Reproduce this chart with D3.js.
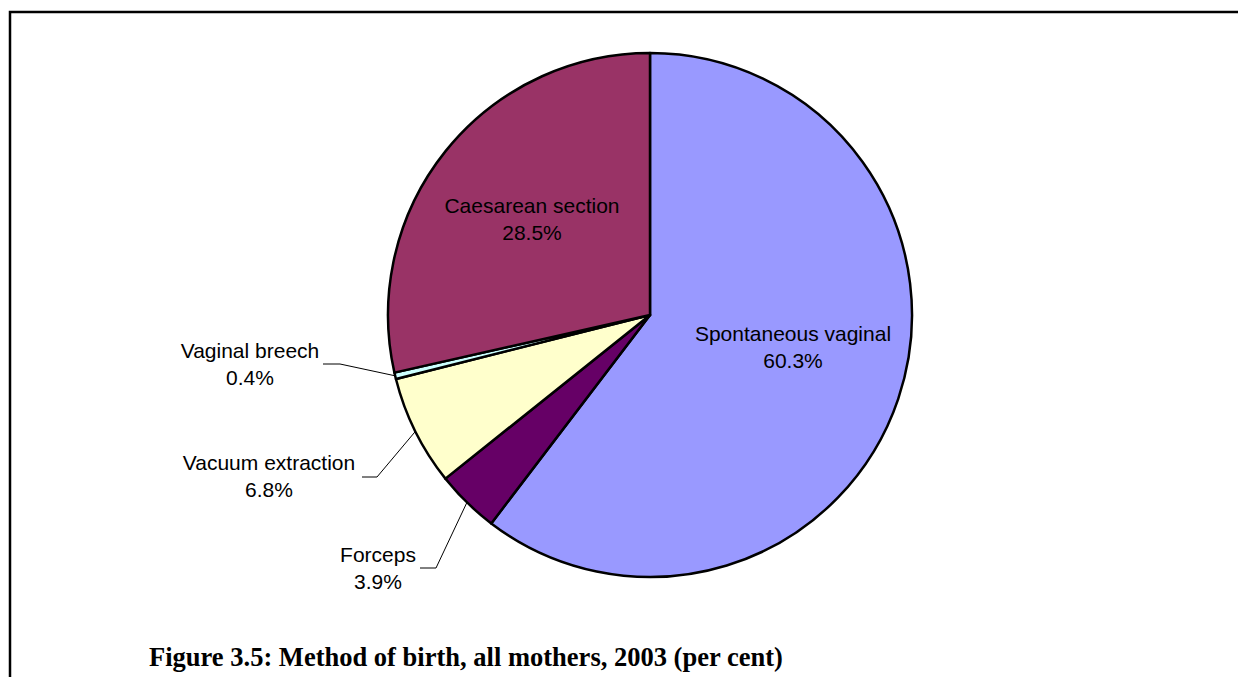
<!DOCTYPE html>
<html>
<head>
<meta charset="utf-8">
<title>Method of birth, all mothers, 2003</title>
<script src="https://cdn.jsdelivr.net/npm/d3@7"></script>
<style>
  body { margin: 0; background: #fff; }
  svg { display: block; }
</style>
</head>
<body>
<script>
// data (per cent), clockwise from 12 o'clock
var categories = ["Spontaneous vaginal", "Forceps", "Vacuum extraction", "Vaginal breech", "Caesarean section"];
var values = [60.3, 3.9, 6.8, 0.4, 28.5];
var colors = ["#9999ff", "#660066", "#ffffcc", "#ccffff", "#993366"];
var title = "Figure 3.5: Method of birth, all mothers, 2003 (per cent)";

// label placement: inside labels sit at a point, outside ones get a leader line
var labelLayout = {
  "Spontaneous vaginal": {inside: true, x: 793, y: 341},
  "Caesarean section":   {inside: true, x: 532, y: 213},
  "Vaginal breech":      {inside: false, x: 250, y: 358, lineX: 323, elbowX: 340, lineY: 364},
  "Vacuum extraction":   {inside: false, x: 269, y: 470, lineX: 362, elbowX: 377, lineY: 477},
  "Forceps":             {inside: false, x: 378, y: 562, lineX: 420, elbowX: 436, lineY: 568}
};

var W = 1238, H = 677;
var cx = 650, cy = 315, radius = 262;

var svg = d3.select("body").append("svg")
    .attr("width", W)
    .attr("height", H);

// outer frame (runs off the right and bottom)
svg.append("rect")
    .attr("x", 10)
    .attr("y", 12)
    .attr("width", W + 20)
    .attr("height", H + 20)
    .attr("fill", "none")
    .attr("stroke", "#000")
    .attr("stroke-width", 2.5);

var data = categories.map(function(c, i) { return {name: c, value: values[i], color: colors[i]}; });

var pie = d3.pie()
    .sort(null)
    .value(function(d) { return d.value; });

var arc = d3.arc()
    .innerRadius(0)
    .outerRadius(radius);

var arcs = pie(data);

var g = svg.append("g")
    .attr("transform", "translate(" + cx + "," + cy + ")");

g.selectAll(".slice")
    .data(arcs)
  .enter().append("path")
    .attr("class", "slice")
    .attr("d", arc)
    .attr("fill", function(d) { return d.data.color; })
    .attr("stroke", "#000")
    .attr("stroke-width", 2.5)
    .attr("stroke-linejoin", "round");

// labels
arcs.forEach(function(d) {
  var L = labelLayout[d.data.name];
  if (!L.inside) {
    var mid = (d.startAngle + d.endAngle) / 2;
    var px = cx + radius * Math.sin(mid),
        py = cy - radius * Math.cos(mid);
    svg.append("polyline")
        .attr("points", [[L.lineX, L.lineY], [L.elbowX, L.lineY], [px, py]].map(function(p) { return p.join(","); }).join(" "))
        .attr("fill", "none")
        .attr("stroke", "#000")
        .attr("stroke-width", 1);
  }
  var t = svg.append("text")
      .attr("x", L.x)
      .attr("y", L.y)
      .attr("text-anchor", "middle")
      .attr("font-family", "'Liberation Sans', Arial, sans-serif")
      .attr("font-size", 21)
      .attr("fill", "#000");
  t.append("tspan").attr("x", L.x).text(d.data.name);
  t.append("tspan").attr("x", L.x).attr("dy", 27).text(d.data.value.toFixed(1) + "%");
});

// caption below the chart
var cap = svg.append("text")
    .attr("x", 149)
    .attr("y", 666)
    .attr("font-family", "'Liberation Serif', 'DejaVu Serif', serif")
    .attr("font-weight", "bold")
    .attr("font-size", 20)
    .attr("fill", "#000")
    .text(title);
var capW = cap.node().getComputedTextLength();
cap.attr("font-size", (20 * 634 / capW).toFixed(2));
</script>
</body>
</html>
